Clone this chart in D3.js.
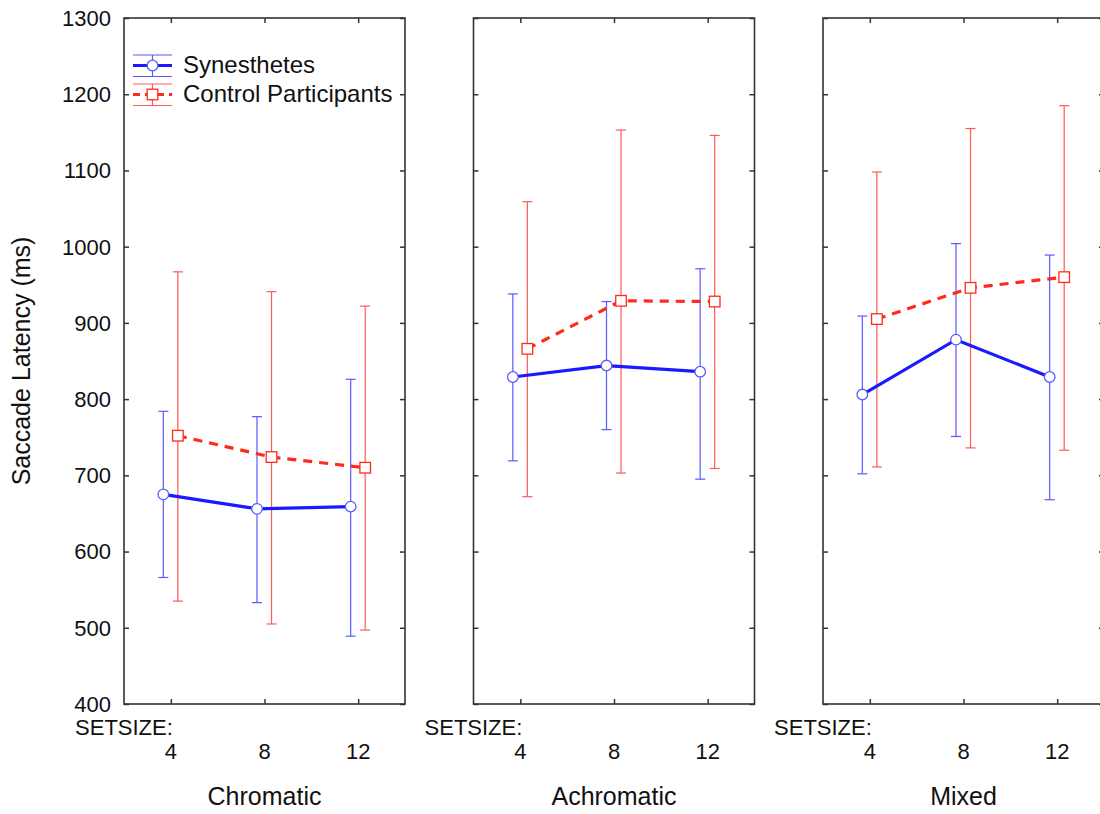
<!DOCTYPE html>
<html>
<head>
<meta charset="utf-8">
<script src="https://cdn.jsdelivr.net/npm/d3@7/dist/d3.min.js"></script>
<style>
  body { margin: 0; background: #fff; }
  text { font-family: "Liberation Sans", Arial, sans-serif; fill: #111; }
</style>
</head>
<body>
<svg id="chart" width="1100" height="814"></svg>
<script>
// values (ms)
var setSizes = [4, 8, 12];
var conditions = ["Chromatic", "Achromatic", "Mixed"];
var yTicks = [400, 500, 600, 700, 800, 900, 1000, 1100, 1200, 1300];

var synMean = [[675, 656, 659], [829, 844, 836], [806, 878, 829]];
var synLow  = [[566, 533, 489], [719, 760, 695], [702, 751, 668]];
var synHigh = [[784, 777, 826], [938, 928, 971], [909, 1004, 989]];

var ctlMean = [[752, 724, 710], [866, 929, 928], [905, 946, 960]];
var ctlLow  = [[535, 505, 497], [672, 703, 709], [711, 736, 733]];
var ctlHigh = [[967, 941, 922], [1059, 1153, 1146], [1098, 1155, 1185]];

var blue = "#1a1aff", blueBar = "#5a5aff";
var red = "#ff2a1a", redBar = "#ff5a55";

var svg = d3.select("#chart");
var plotTop = 18, plotBottom = 704, panelW = 281;
var panelLeft = [124, 473.5, 823];

var y = d3.scaleLinear().domain([400, 1300]).range([plotBottom, plotTop]);

var series = [
  { name: "Synesthetes", mean: synMean, low: synLow, high: synHigh, off: -0.32,
    line: blue, bar: blueBar, dash: null, shape: "circle" },
  { name: "Control Participants", mean: ctlMean, low: ctlLow, high: ctlHigh, off: 0.3,
    line: red, bar: redBar, dash: "9,7", shape: "square" }
];

function styleTicks(a) {
  a.select(".domain").remove();
  a.selectAll("line").attr("stroke", "#333").attr("stroke-width", 1.5);
}

conditions.forEach(function(cond, p) {
  var x = d3.scaleLinear().domain([2, 14]).range([panelLeft[p], panelLeft[p] + panelW]);
  var g = svg.append("g");

  // frame
  g.append("rect")
    .attr("x", x(2)).attr("y", plotTop)
    .attr("width", x(14) - x(2)).attr("height", plotBottom - plotTop)
    .attr("fill", "none").attr("stroke", "#333").attr("stroke-width", 1.6);

  // inner ticks on all sides
  g.append("g").attr("transform", "translate(0," + plotBottom + ")")
    .call(d3.axisTop(x).tickValues(setSizes).tickSize(5).tickFormat("")).call(styleTicks);
  g.append("g").attr("transform", "translate(0," + plotTop + ")")
    .call(d3.axisBottom(x).tickValues(setSizes).tickSize(5).tickFormat("")).call(styleTicks);
  g.append("g").attr("transform", "translate(" + x(2) + ",0)")
    .call(d3.axisRight(y).tickValues(yTicks).tickSize(5).tickFormat("")).call(styleTicks);
  g.append("g").attr("transform", "translate(" + x(14) + ",0)")
    .call(d3.axisLeft(y).tickValues(yTicks).tickSize(5).tickFormat("")).call(styleTicks);

  // x labels
  g.selectAll(".xl").data(setSizes).enter().append("text")
    .attr("x", function(d) { return x(d); })
    .attr("y", 759)
    .attr("text-anchor", "middle")
    .style("font-size", "22px")
    .text(function(d) { return d; });

  g.append("text")
    .attr("x", x(4) + 2).attr("y", 735)
    .attr("text-anchor", "end")
    .style("font-size", "22px")
    .text("SETSIZE:");

  g.append("text")
    .attr("x", x(8)).attr("y", 805)
    .attr("text-anchor", "middle")
    .style("font-size", "25px")
    .text(cond);

  series.forEach(function(s) {
    var pts = setSizes.map(function(v, i) {
      return { x: x(v + s.off), m: s.mean[p][i], lo: s.low[p][i], hi: s.high[p][i] };
    });

    // error bars
    var eb = g.append("g").attr("stroke", s.bar).attr("stroke-width", 1.2).attr("fill", "none");
    pts.forEach(function(d) {
      eb.append("line").attr("x1", d.x).attr("x2", d.x).attr("y1", y(d.lo)).attr("y2", y(d.hi));
      eb.append("line").attr("x1", d.x - 5).attr("x2", d.x + 5).attr("y1", y(d.lo)).attr("y2", y(d.lo));
      eb.append("line").attr("x1", d.x - 5).attr("x2", d.x + 5).attr("y1", y(d.hi)).attr("y2", y(d.hi));
    });
    s.pts = pts;
  });

  series.forEach(function(s) {
    g.append("path")
      .datum(s.pts)
      .attr("fill", "none")
      .attr("stroke", s.line)
      .attr("stroke-width", 3.2)
      .attr("stroke-dasharray", s.dash)
      .attr("d", d3.line().x(function(d) { return d.x; }).y(function(d) { return y(d.m); }));
  });

  series.forEach(function(s) {
    s.pts.forEach(function(d) {
      if (s.shape === "circle") {
        g.append("circle").attr("cx", d.x).attr("cy", y(d.m)).attr("r", 5.3)
          .attr("fill", "#fff").attr("stroke", s.bar).attr("stroke-width", 1.3);
      } else {
        g.append("rect").attr("x", d.x - 5.3).attr("y", y(d.m) - 5.3).attr("width", 10.6).attr("height", 10.6)
          .attr("fill", "#fff").attr("stroke", s.line).attr("stroke-width", 1.3);
      }
    });
  });
});

// y axis labels on first panel
svg.append("g").attr("transform", "translate(" + (panelLeft[0] - 13) + ",0)")
  .selectAll("text").data(yTicks).enter().append("text")
  .attr("x", 0)
  .attr("y", function(d) { return y(d); })
  .attr("dy", "0.36em")
  .attr("text-anchor", "end")
  .style("font-size", "22px")
  .text(function(d) { return d; });

svg.append("text")
  .attr("transform", "translate(30," + ((plotTop + plotBottom) / 2) + ") rotate(-90)")
  .attr("text-anchor", "middle")
  .style("font-size", "25px")
  .text("Saccade Latency (ms)");

// legend
var legend = svg.append("g");
var lx0 = 133, lx1 = 172, lxc = (lx0 + lx1) / 2;
series.forEach(function(s, i) {
  var ly = 65.5 + i * 29;
  var row = legend.append("g");
  row.append("line").attr("x1", lx0).attr("x2", lx1).attr("y1", ly - 10.5).attr("y2", ly - 10.5)
    .attr("stroke", s.bar).attr("stroke-width", 1.2);
  row.append("line").attr("x1", lx0).attr("x2", lx1).attr("y1", ly + 11).attr("y2", ly + 11)
    .attr("stroke", s.bar).attr("stroke-width", 1.2);
  row.append("line").attr("x1", lxc).attr("x2", lxc).attr("y1", ly - 10.5).attr("y2", ly + 11)
    .attr("stroke", s.bar).attr("stroke-width", 1.2);
  row.append("line").attr("x1", lx0).attr("x2", lx1).attr("y1", ly).attr("y2", ly)
    .attr("stroke", s.line).attr("stroke-width", 3.2)
    .attr("stroke-dasharray", s.dash ? "7,5" : null);
  if (s.shape === "circle") {
    row.append("circle").attr("cx", lxc).attr("cy", ly).attr("r", 5.3)
      .attr("fill", "#fff").attr("stroke", s.bar).attr("stroke-width", 1.3);
  } else {
    row.append("rect").attr("x", lxc - 5.3).attr("y", ly - 5.3).attr("width", 10.6).attr("height", 10.6)
      .attr("fill", "#fff").attr("stroke", s.line).attr("stroke-width", 1.3);
  }
  row.append("text").attr("x", 183).attr("y", ly + 7.5)
    .style("font-size", "24px")
    .text(s.name);
});
</script>
</body>
</html>
